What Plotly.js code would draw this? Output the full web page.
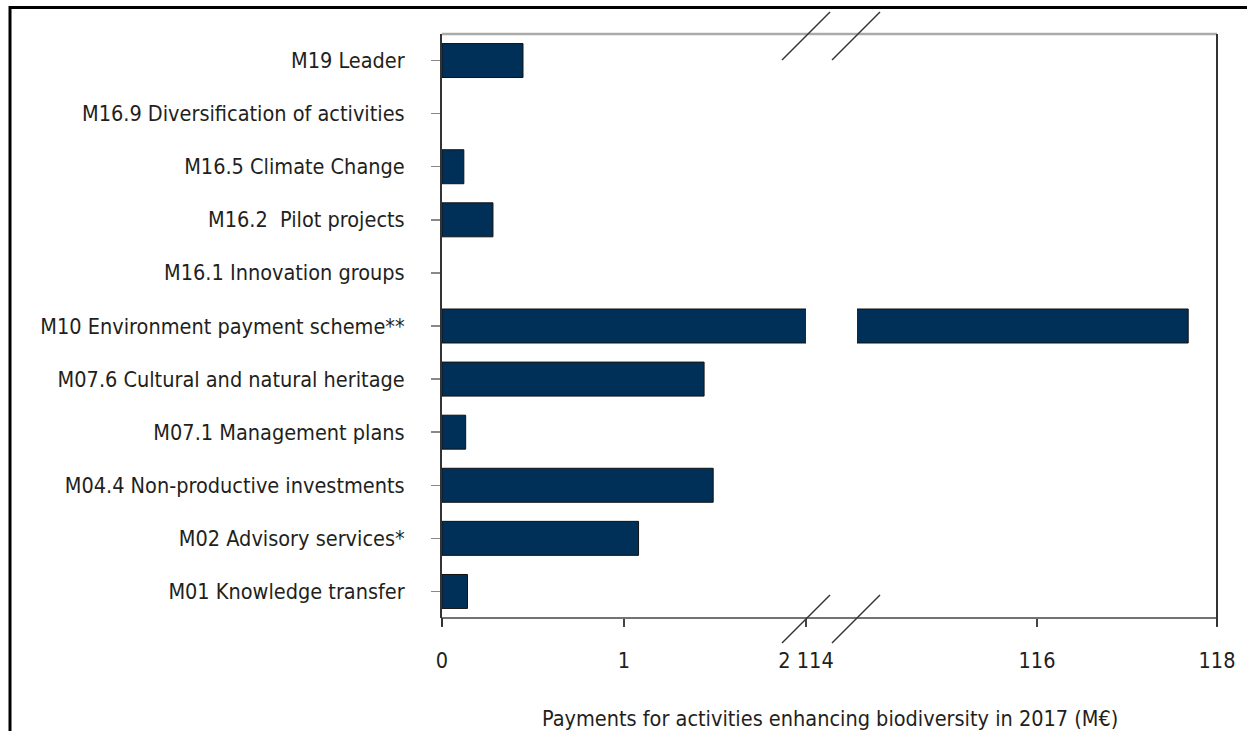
<!DOCTYPE html>
<html><head><meta charset="utf-8">
<script src="https://cdn.plot.ly/plotly-3.0.1.min.js"></script>
<style>html,body{margin:0;padding:0;background:#fff}#chart{width:1247px;height:731px}</style>
</head><body><div id="chart"></div>
<script>
const categories = [
  "M01 Knowledge transfer",
  "M02 Advisory services*",
  "M04.4 Non-productive investments",
  "M07.1 Management plans",
  "M07.6 Cultural and natural heritage",
  "M10 Environment payment scheme**",
  "M16.1 Innovation groups",
  "M16.2  Pilot projects",
  "M16.5 Climate Change",
  "M16.9 Diversification of activities",
  "M19 Leader"
];
const payments = [0.14, 1.08, 1.49, 0.13, 1.44, 117.68, 0, 0.28, 0.12, 0, 0.445];
const leftTickVals = [0, 1, 2];
const leftTickText = ["0", "1", "2 114"];
const rightTickVals = [116, 118];
const rightTickText = ["116", "118"];
const xTitle = "Payments for activities enhancing biodiversity in 2017 (M€)";

const W = 1247, H = 731, L = 442, R = 1217, T = 34, B = 618;
const px = x => (x - L) / (R - L);
const py = y => (B - y) / (B - T);

const barStyle = {color: "#003057", line: {color: "#111", width: payments.map(v => v > 0 ? 1 : 0)}};
const font = {family: "DejaVu Sans Condensed, Liberation Sans Narrow, sans-serif", size: 21.5, color: "#231f20"};

const traces = [
  {type: "bar", orientation: "h", y: categories, x: payments, xaxis: "x", yaxis: "y",
   marker: barStyle, width: 0.64, hoverinfo: "x+y"},
  {type: "bar", orientation: "h", y: categories, x: payments, xaxis: "x2", yaxis: "y",
   marker: barStyle, width: 0.64, hoverinfo: "x+y"}
];

const slash = (cx, cy) => ({type: "line", xref: "paper", yref: "paper",
  x0: px(cx - 24), y0: py(cy + 24), x1: px(cx + 24), y1: py(cy - 24),
  line: {color: "#333", width: 1.5}});

const layout = {
  width: W, height: H,
  margin: {l: L, r: W - R, t: T, b: H - B},
  paper_bgcolor: "#fff", plot_bgcolor: "#fff",
  showlegend: false, font: font,
  xaxis: {domain: [0, px(806)], range: [0, 2], tickvals: leftTickVals, ticktext: leftTickText,
    ticks: "outside", ticklen: 8, tickcolor: "#444", tickwidth: 1.5, showgrid: false, zeroline: false,
    showline: false, anchor: "y", tickfont: font, ticklabelstandoff: 15, fixedrange: true},
  xaxis2: {domain: [px(857), 1], range: [114, 118], tickvals: rightTickVals, ticktext: rightTickText,
    ticks: "outside", ticklen: 8, tickcolor: "#444", tickwidth: 1.5, showgrid: false, zeroline: false,
    showline: false, anchor: "y", tickfont: font, ticklabelstandoff: 15, fixedrange: true},
  yaxis: {type: "category", range: [-0.5, 10.5], ticks: "outside", ticklen: 9, tickcolor: "#888",
    tickwidth: 1.5, showline: true, linecolor: "#333", linewidth: 2, showgrid: false, zeroline: false,
    ticklabelstandoff: 22, tickfont: font, fixedrange: true},
  annotations: [
    {xref: "paper", yref: "paper", x: 0.5, y: py(718), text: xTitle, showarrow: false,
     xanchor: "center", yanchor: "middle", font: font}
  ],
  shapes: [
    {type: "line", xref: "paper", yref: "paper", x0: 0, x1: 1, y0: 1, y1: 1, line: {color: "#aaa", width: 2.5}},
    {type: "line", xref: "paper", yref: "paper", x0: 0, x1: 1, y0: 0, y1: 0, line: {color: "#444", width: 1.5}},
    {type: "line", xref: "paper", yref: "paper", x0: 1, x1: 1, y0: py(626), y1: 1, line: {color: "#333", width: 2}},
    {type: "line", xref: "paper", yref: "paper", x0: 0, x1: 0, y0: py(626), y1: 0, line: {color: "#333", width: 2}},
    slash(806, 36), slash(856, 36), slash(806, 619), slash(856, 619),
    {type: "line", xref: "paper", yref: "paper", x0: px(9), x1: px(1250), y0: py(7.5), y1: py(7.5), line: {color: "#000", width: 3}},
    {type: "line", xref: "paper", yref: "paper", x0: px(10), x1: px(10), y0: py(6), y1: py(735), line: {color: "#000", width: 3}}
  ]
};
Plotly.newPlot("chart", traces, layout, {displayModeBar: false, staticPlot: true});
</script></body></html>
